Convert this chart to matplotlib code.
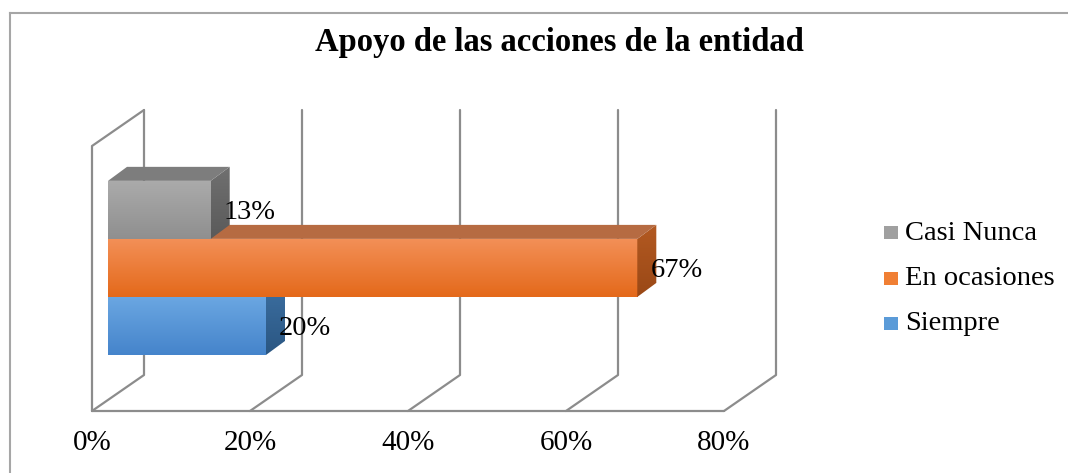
import numpy as np
import matplotlib
matplotlib.use("Agg")
import matplotlib.pyplot as plt
from matplotlib.patches import Polygon, Rectangle
from matplotlib.lines import Line2D
from matplotlib.colors import LinearSegmentedColormap

# ---- data ----
categories = ["Siempre", "En ocasiones", "Casi Nunca"]
values = [20, 67, 13]
tick_values = [0, 20, 40, 60, 80]
tick_labels = ["0%", "20%", "40%", "60%", "80%"]
title = "Apoyo de las acciones de la entidad"

# ---- styles ----
front_cols = [("#6BA7E2", "#4584CB"), ("#F39058", "#E4691A"), ("#ABABAB", "#8F8F8F")]
side_cols = [("#3D70A2", "#2A5682"), ("#B35A22", "#9A4816"), ("#707070", "#5A5A5A")]
top_cols = ["#4F86BE", "#B66B42", "#7D7D7D"]
legend_cols = ["#5B9BD8", "#F07F34", "#A0A0A0"]
grid_col = "#8C8C8C"
serif = ["Liberation Serif", "DejaVu Serif"]

W, H = 1068, 473
fig = plt.figure(figsize=(W / 100, H / 100), dpi=100)
fig.patch.set_facecolor("white")


def fx(x):
    return x / W


def fy(y):
    return 1 - y / H


# axes = plane of the bar front faces
ax = fig.add_axes([fx(108), fy(400), 632 / W, 265 / H])
ax.set_xlim(0, 80)
ylo, yhi = -1.276, 3.29
ax.set_ylim(ylo, yhi)
ax.set_autoscale_on(False)
ax.axis("off")

BAR_DEPTH = (19, 14)     # pixel offset of bar back faces
FRONT = (-16, -11)       # pixel offset of the front grid plane
BACK = (36, 25)          # pixel offset of the back grid plane


def shift(x, y, d):
    p = ax.transData.transform((x, y)) + np.array(d, dtype=float)
    return tuple(ax.transData.inverted().transform(p))


# ---- 3D grid: floor lines, walls and back gridlines ----
gkw = dict(color=grid_col, lw=1.6, clip_on=False, zorder=1, solid_capstyle="round")
f0 = shift(0, ylo, FRONT)
f1 = shift(80, ylo, FRONT)
ax.add_line(Line2D([f0[0], f1[0]], [f0[1], f1[1]], **gkw))
for t in tick_values:
    fb = shift(t, ylo, FRONT)
    bb = shift(t, ylo, BACK)
    bt = shift(t, yhi, BACK)
    ax.add_line(Line2D([fb[0], bb[0], bt[0]], [fb[1], bb[1], bt[1]], **gkw))
# left side wall
ft = shift(0, yhi, FRONT)
bt0 = shift(0, yhi, BACK)
ax.add_line(Line2D([f0[0], ft[0], bt0[0]], [f0[1], ft[1], bt0[1]], **gkw))


def gradient(c_top, c_bot):
    return LinearSegmentedColormap.from_list("g", [c_top, c_bot])


grad = np.linspace(0, 1, 256).reshape(-1, 1)

# ---- 3D bars ----
for i, (v, fc, sc, tc) in enumerate(zip(values, front_cols, side_cols, top_cols)):
    z = 3 + i
    yb, yt = i - 0.5, i + 0.5
    # front face
    front = Rectangle((0, yb), v, 1, facecolor="none", edgecolor="none")
    ax.add_patch(front)
    im = ax.imshow(grad, cmap=gradient(*fc), extent=[0, v, yb, yt], aspect="auto",
                   origin="upper", zorder=z, interpolation="bilinear")
    im.set_clip_path(front)
    # side face
    side_pts = [(v, yb), (v, yt), shift(v, yt, BAR_DEPTH), shift(v, yb, BAR_DEPTH)]
    side = Polygon(side_pts, closed=True, facecolor="none", edgecolor="none")
    ax.add_patch(side)
    xs = [p[0] for p in side_pts]
    ys = [p[1] for p in side_pts]
    im2 = ax.imshow(grad, cmap=gradient(*sc), extent=[min(xs), max(xs), min(ys), max(ys)],
                    aspect="auto", origin="upper", zorder=z, interpolation="bilinear")
    im2.set_clip_path(side)
    # top face
    top_pts = [(0, yt), (v, yt), shift(v, yt, BAR_DEPTH), shift(0, yt, BAR_DEPTH)]
    ax.add_patch(Polygon(top_pts, closed=True, facecolor=tc, edgecolor="none", zorder=z))
    # value label
    lx, ly = shift(v, i, (13, -9))
    ax.text(lx, ly, f"{v}%", ha="left", va="baseline", fontsize=20.5,
            family=serif, color="black", zorder=10)

# ---- x tick labels on the front floor edge ----
for t, lab in zip(tick_values, tick_labels):
    tx, ty = shift(t, ylo, (FRONT[0], -50))
    ax.text(tx, ty, lab, ha="center", va="baseline", fontsize=21, family=serif,
            color="black", clip_on=False)

# ---- title ----
fig.text(fx(559), fy(51), title, ha="center", va="baseline", fontsize=23.5,
         fontweight="bold", family=serif, color="black")

# ---- legend ----
leg_rows = [233, 278, 323]
for lab, col, yc in zip(categories[::-1], legend_cols[::-1], leg_rows):
    fig.add_artist(Rectangle((fx(884), fy(yc + 6.5)), 14 / W, 13 / H,
                             transform=fig.transFigure, facecolor=col, edgecolor="none"))
    fig.text(fx(905), fy(yc + 7), lab, ha="left", va="baseline", fontsize=20.5,
             family=serif, color="black")

# ---- chart area border (top and left edges) ----
bkw = dict(color="#A6A6A6", lw=1.5, transform=fig.transFigure)
fig.add_artist(Line2D([fx(9.5), 1], [fy(13), fy(13)], **bkw))
fig.add_artist(Line2D([fx(9.5), fx(9.5)], [fy(13), 0], **bkw))

fig.savefig("out.png", dpi=100)
